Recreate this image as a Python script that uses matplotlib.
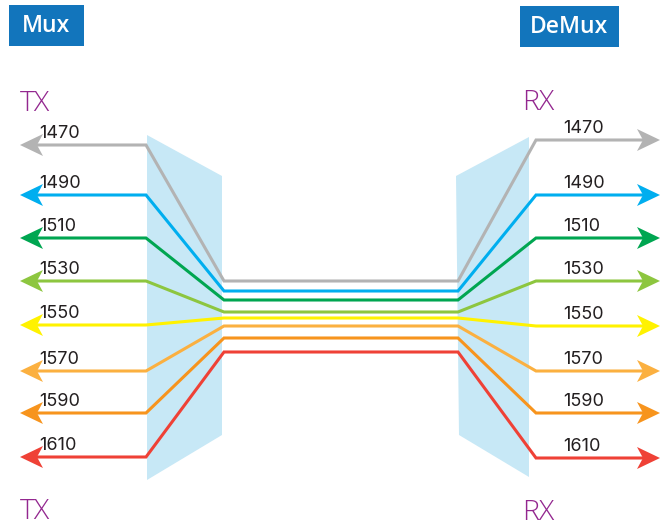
import matplotlib
matplotlib.use("Agg")
import matplotlib.pyplot as plt
from matplotlib.patches import Polygon, Rectangle

# ---- data ----
wavelengths = ["1470", "1490", "1510", "1530", "1550", "1570", "1590", "1610"]
colors = ["#B3B3B3", "#00AEEF", "#00A651", "#8DC63F", "#FFF200", "#FBB040", "#F7941D", "#EF4136"]
left_y = [145, 195, 238, 281, 325, 371, 413, 457]
right_y = [140, 195, 238, 281, 326, 371, 413, 458]
bundle_y = [281, 291, 300, 312, 318, 326, 338, 352]

fig = plt.figure(figsize=(6.61, 5.32), dpi=100)
ax = fig.add_axes([0, 0, 1, 1])
ax.set_xlim(0, 661)
ax.set_ylim(532, 0)
ax.axis("off")

panel = "#C7E8F6"
ax.add_patch(Polygon([(147, 135), (222, 176), (222, 435), (147, 480)], closed=True,
                     facecolor=panel, edgecolor="none", zorder=1))
ax.add_patch(Polygon([(456, 176), (529, 137), (529, 477), (459, 435)], closed=True,
                     facecolor=panel, edgecolor="none", zorder=1))

lw = 2.2
x_l_tip, x_l_bend, x_c_l, x_c_r, x_r_bend, x_r_tip = 20, 146, 224, 458, 536, 660
head_len, head_half, notch = 23, 11, 6

for name, c, yl, yb, yr in zip(wavelengths, colors, left_y, bundle_y, right_y):
    xs = [x_l_tip + head_len - notch, x_l_bend, x_c_l, x_c_r, x_r_bend, x_r_tip - head_len + notch]
    ys = [yl, yl, yb, yb, yr, yr]
    ax.plot(xs, ys, color=c, lw=lw, solid_joinstyle="miter", solid_capstyle="butt", zorder=3)
    ax.add_patch(Polygon([(x_l_tip, yl), (x_l_tip + head_len, yl - head_half),
                          (x_l_tip + head_len - notch, yl), (x_l_tip + head_len, yl + head_half)],
                         closed=True, facecolor=c, edgecolor="none", zorder=4))
    ax.add_patch(Polygon([(x_r_tip, yr), (x_r_tip - head_len, yr - head_half),
                          (x_r_tip - head_len + notch, yr), (x_r_tip - head_len, yr + head_half)],
                         closed=True, facecolor=c, edgecolor="none", zorder=4))
    ax.text(39, yl - 3, name, fontsize=13, color="#231F20", family="Inter",
            ha="left", va="bottom", zorder=5)
    ax.text(563, yr - 3, name, fontsize=13, color="#231F20", family="Inter",
            ha="left", va="bottom", zorder=5)

blue = "#1275BC"
ax.add_patch(Rectangle((9, 5), 75, 41, facecolor=blue, edgecolor="none"))
ax.text(46.5, 26, "Mux", color="white", fontsize=16.5, family="Open Sans", weight="semibold",
        ha="center", va="center")
ax.add_patch(Rectangle((520, 6), 99, 41, facecolor=blue, edgecolor="none"))
ax.text(569.5, 27, "DeMux", color="white", fontsize=16.5, family="Open Sans", weight="semibold",
        ha="center", va="center")

purple = "#93278F"
for x, y, t in [(20, 104, "TX"), (20, 512, "TX"), (522, 103, "RX"), (522, 513, "RX")]:
    ax.text(x, y, t, color=purple, fontsize=20.5, family="Open Sans", weight="light",
            ha="left", va="center")

fig.savefig("out.png", dpi=100)
